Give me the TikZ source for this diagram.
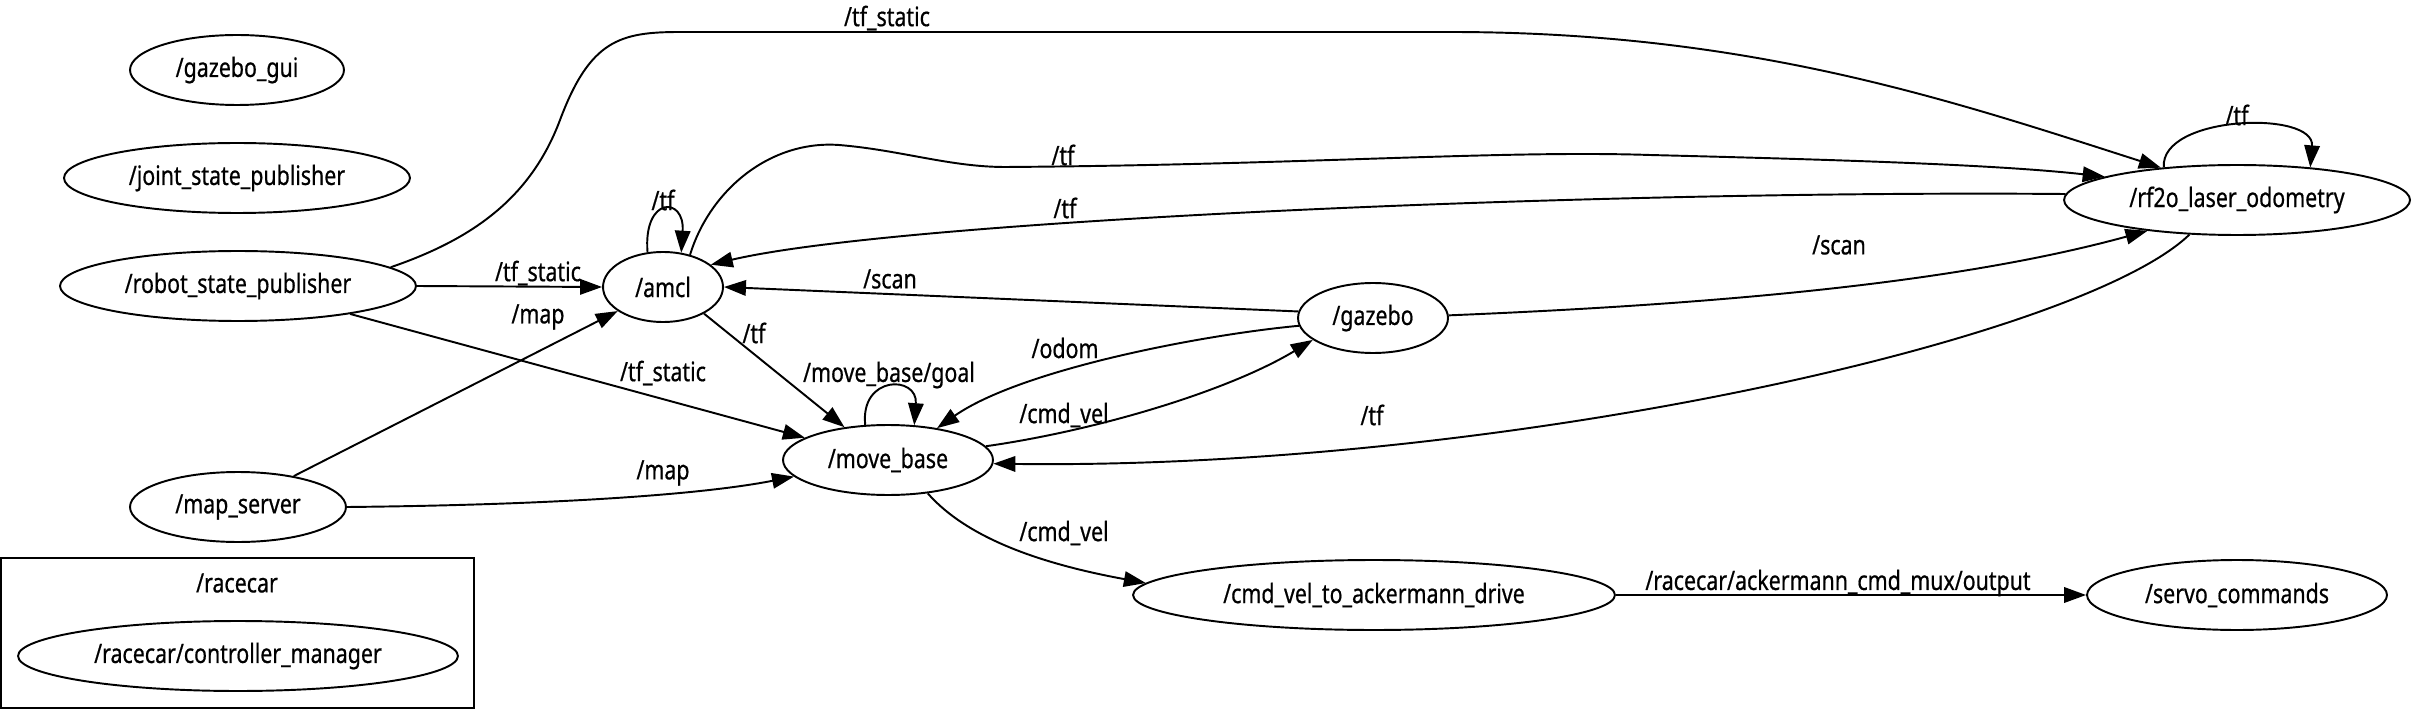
\documentclass[tikz,border=0pt]{standalone}
\usepackage{fontspec}
\setmainfont{Noto Sans}[FakeStretch=0.8,FakeBold=0.6]
\usetikzlibrary{shapes.geometric,arrows.meta}

\begin{document}
\begin{tikzpicture}[x=0.02cm,y=-0.02cm,line width=1.1pt,
  every node/.style={font=\fontsize{15.2}{18}\selectfont},
  rosnode/.style={draw,ellipse,inner sep=0pt,minimum height=1.4cm},
  msg/.style={-{Triangle[length=0.44cm,width=0.31cm]}},
  topiclbl/.style={inner sep=1pt}]
\useasboundingbox (0,0) rectangle (2412,709);
\node[rosnode,minimum width=4.28cm] (gazebogui) at (237,70) {/gazebo\_gui};
\node[rosnode,minimum width=6.92cm] (jsp) at (237,178) {/joint\_state\_publisher};
\node[rosnode,minimum width=7.12cm] (rsp) at (238,286) {/robot\_state\_publisher};
\node[rosnode,minimum width=4.32cm] (mapserver) at (238,507) {/map\_server};
\node[rosnode,minimum width=2.4cm] (amcl) at (663,287) {/amcl};
\node[rosnode,minimum width=4.2cm] (movebase) at (888,460) {/move\_base};
\node[rosnode,minimum width=3cm] (gazebo) at (1373,318) {/gazebo};
\node[rosnode,minimum width=6.92cm] (rftwo) at (2237,200) {/rf2o\_laser\_odometry};
\node[rosnode,minimum width=9.64cm] (cva) at (1374,595) {/cmd\_vel\_to\_ackermann\_drive};
\node[rosnode,minimum width=6cm] (servo) at (2237,595) {/servo\_commands};
\draw (1,558) rectangle (474,708);
\node (racecar) at (237,583) {/racecar};
\node[rosnode,minimum width=8.8cm] (ctrlmgr) at (238,656) {/racecar/controller\_manager};

\draw[msg] (rsp.7) .. controls (470,240) and (530,200) .. (560,120) .. controls (590,40) and (620,32) .. (680,32) -- (1450,32) .. controls (1750,32) and (1950,100) .. (rftwo.157);
\draw[msg] (rsp.east) -- (amcl.west);
\draw[msg] (rsp.-14) -- (movebase.165);
\draw[msg] (mapserver.29) -- (amcl.208);
\draw[msg] (mapserver.east) .. controls (550,505) and (700,495) .. (movebase.190);
\draw[msg] (amcl.114) .. controls (643,196) and (685,196) .. (amcl.62);
\draw[msg] (amcl.50) .. controls (710,190) and (770,140) .. (839,145) .. controls (900,150) and (950,167) .. (1005,167) .. controls (1300,165) and (1500,150) .. (1650,155) .. controls (1850,160) and (2000,165) .. (rftwo.170);
\draw[msg] (rftwo.178) .. controls (1600,190) and (900,220) .. (amcl.25);
\draw[msg] (amcl.-33) -- (movebase.143);
\draw[msg] (gazebo.175) -- (amcl.east);
\draw[msg] (gazebo.186) .. controls (1200,335) and (1020,370) .. (movebase.33);
\draw[msg] (movebase.8) .. controls (1100,430) and (1230,390) .. (gazebo.200);
\draw[msg] (movebase.123) .. controls (860,375) and (918,375) .. (movebase.53);
\draw[msg] (gazebo.2) .. controls (1700,305) and (1950,285) .. (rftwo.199);
\draw[msg] (rftwo.156) .. controls (2160,115) and (2315,110) .. (rftwo.24);
\draw[msg] (rftwo.216) .. controls (2080,340) and (1500,470) .. (movebase.358);
\draw[msg] (movebase.-40) .. controls (960,530) and (1020,560) .. (cva.177);
\draw[msg] (cva.east) -- (servo.west);

\node[topiclbl] (l1) at (887,18) {/tf\_static};
\node[topiclbl] (l2) at (538,273) {/tf\_static};
\node[topiclbl] (l3) at (663,373) {/tf\_static};
\node[topiclbl] (l4) at (538,317) {/map};
\node[topiclbl] (l5) at (663,473) {/map};
\node[topiclbl] (l6) at (663,200) {/tf};
\node[topiclbl] (l7) at (1063,155) {/tf};
\node[topiclbl] (l8) at (1065,208) {/tf};
\node[topiclbl] (l9) at (890,279) {/scan};
\node[topiclbl] (l10) at (754,333) {/tf};
\node[topiclbl] (l11) at (889,375) {/move\_base/goal};
\node[topiclbl] (l12) at (1065,348) {/odom};
\node[topiclbl] (l13) at (1064,415) {/cmd\_vel};
\node[topiclbl] (l14) at (1372,415) {/tf};
\node[topiclbl] (l15) at (1064,533) {/cmd\_vel};
\node[topiclbl] (l16) at (1839,245) {/scan};
\node[topiclbl] (l17) at (2237,115) {/tf};
\node[topiclbl] (l18) at (1838,583) {/racecar/ackermann\_cmd\_mux/output};
\end{tikzpicture}
\end{document}
